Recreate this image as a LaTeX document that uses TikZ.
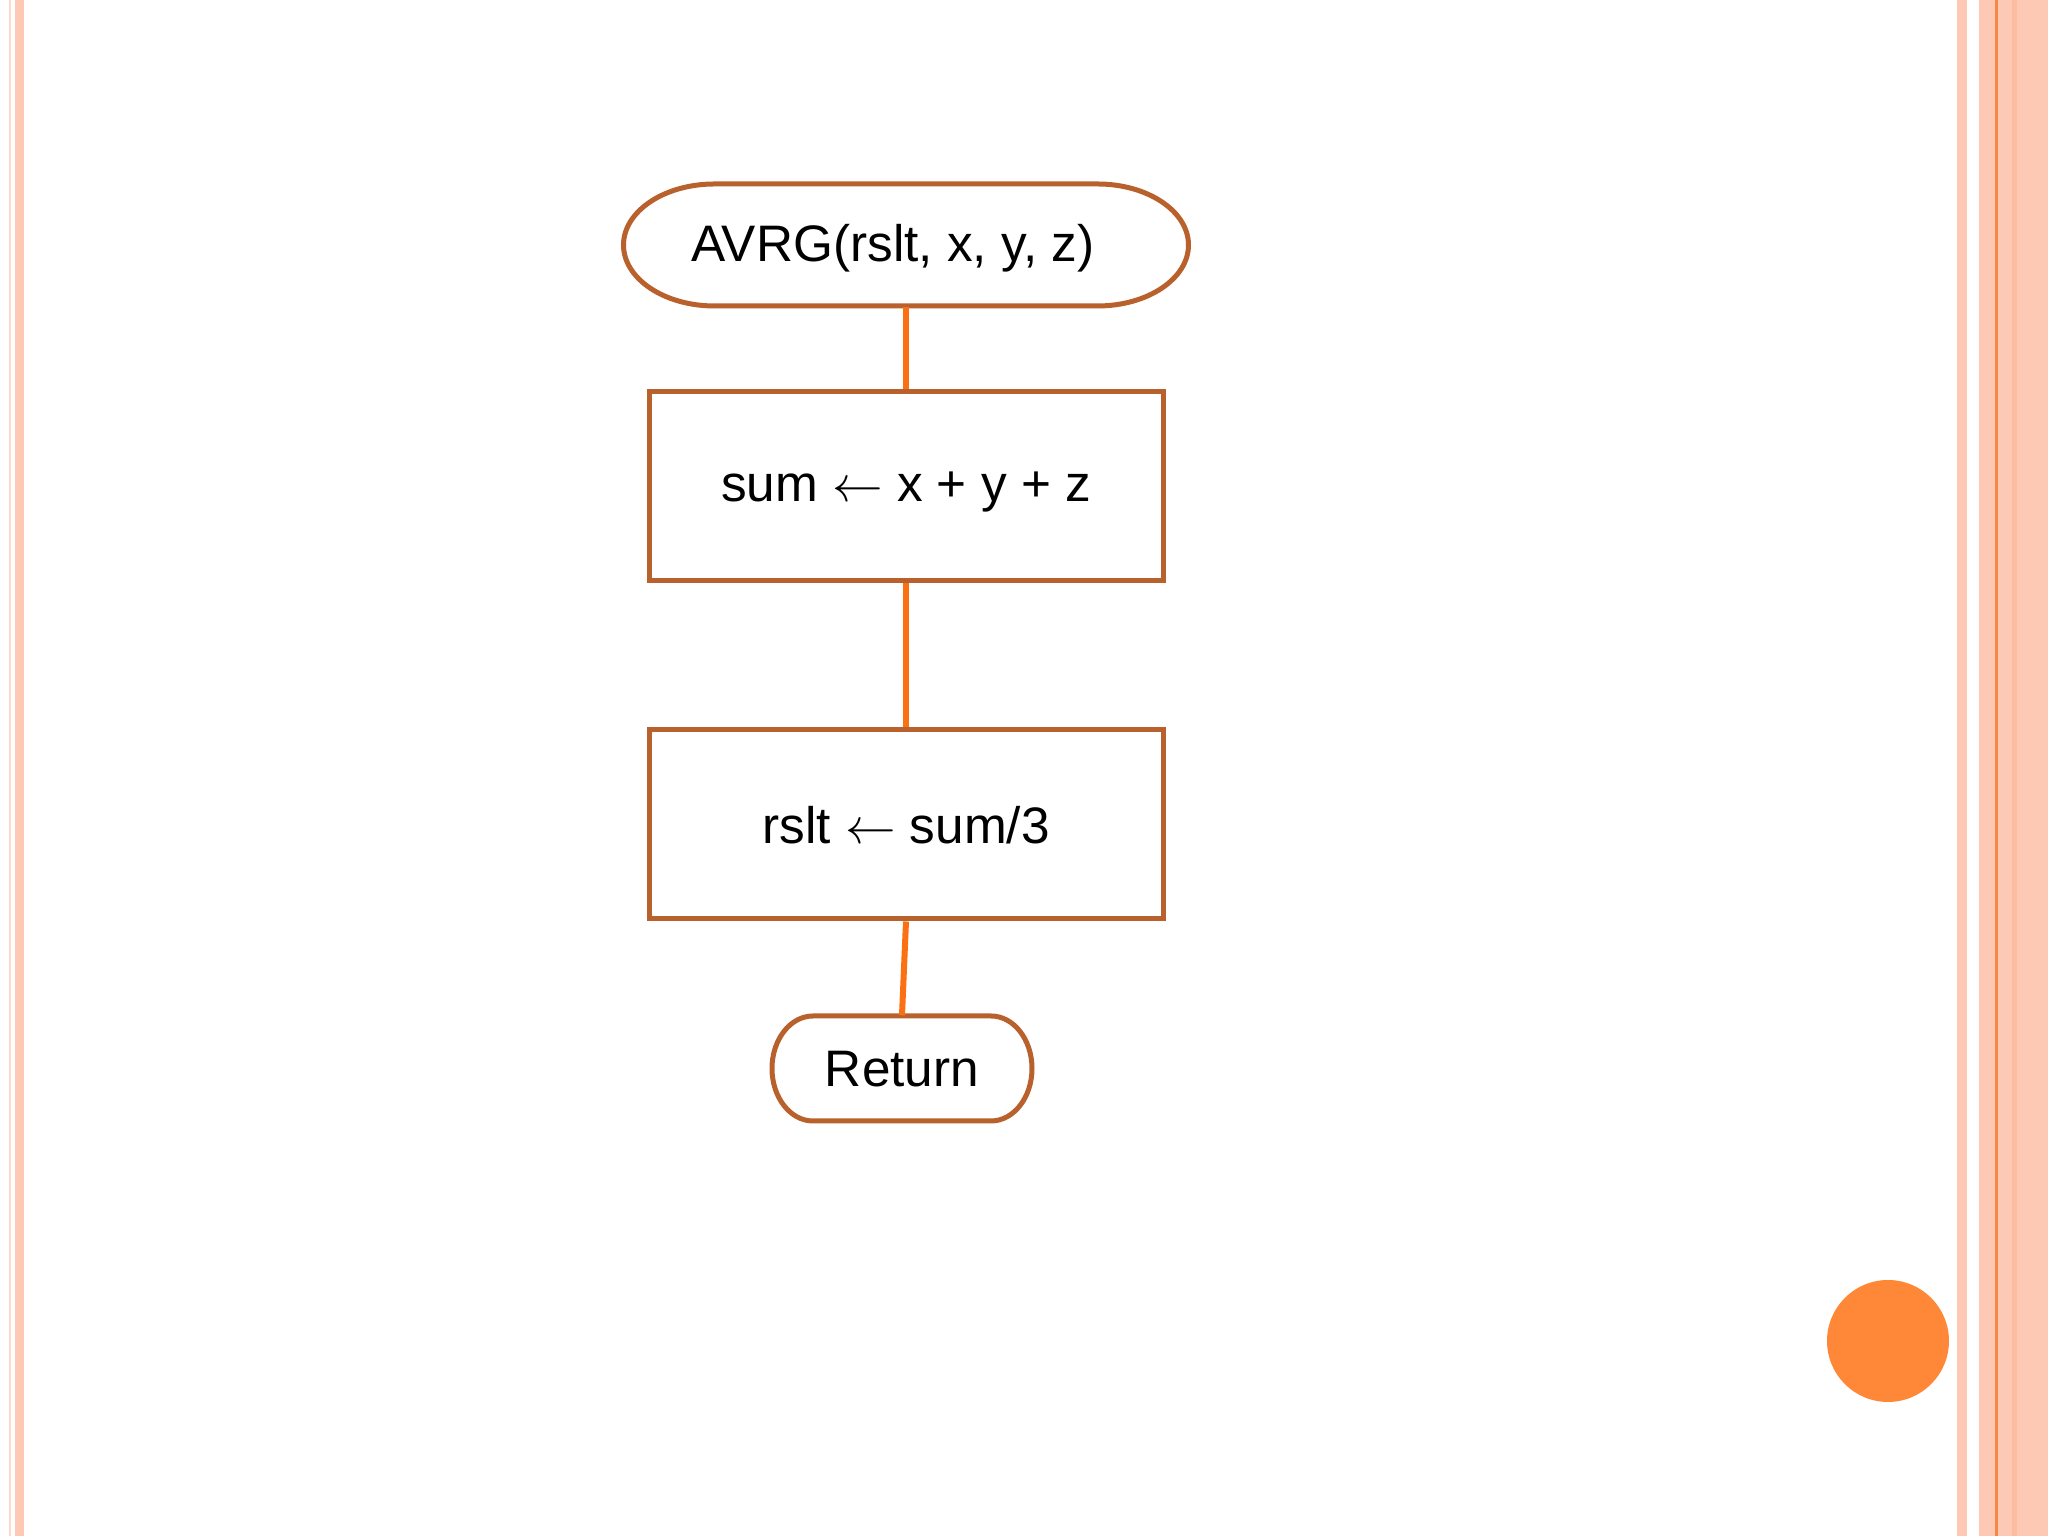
\documentclass[tikz,border=0pt]{standalone}
\usepackage{fontspec}
\setmainfont{Liberation Sans}
\usepackage{tikz}
\usetikzlibrary{calc,shapes}
\definecolor{frameclr}{RGB}{185,97,45}
\definecolor{lineclr}{RGB}{250,112,18}
\definecolor{stripe}{RGB}{253,200,180}
\definecolor{stripedark}{RGB}{251,188,160}
\definecolor{stripeline}{RGB}{248,135,70}
\definecolor{dotclr}{RGB}{255,136,56}
\tikzset{%
	process/.style  = {draw=frameclr, line width=0.05cm, rectangle, minimum width=5.14cm, minimum height=1.89cm, inner sep=0pt, text centered, text depth=0pt},
	terminal/.style = {rectangle, inner sep=0pt, text centered, text depth=0pt},
	frame/.style    = {draw=frameclr, line width=0.05cm},
	link/.style     = {draw=lineclr, line width=0.06cm},
}

\begin{document}
\begin{tikzpicture}[font=\fontsize{14.6}{17}\selectfont]
	\useasboundingbox (0,0) rectangle (20.48,15.36);
	\fill[white] (0,0) rectangle (20.48,15.36);
	
	% side stripes
	\fill[stripe!70] (0.09,0) rectangle (0.11,15.36);
	\fill[stripe] (0.15,0) rectangle (0.24,15.36);
	\fill[stripe] (19.57,0) rectangle (19.67,15.36);
	\fill[stripe] (19.79,0) rectangle (20.48,15.36);
	\fill[stripedark] (20.12,0) rectangle (20.17,15.36);
	\fill[stripeline] (19.95,0) rectangle (19.98,15.36);
	\fill[dotclr] (18.88,1.95) circle (0.61);
	
	\node[terminal, minimum width=5.64cm, minimum height=1.22cm] (avrg) at (8.93,12.93) {AVRG(rslt, x, y, z)};
	\node[process] (sum) at (9.06,10.495) {sum $\leftarrow$ x + y + z};
	\node[process] (rslt) at (9.06,7.115) {rslt $\leftarrow$ sum/3};
	\node[terminal, minimum width=2.60cm, minimum height=1.05cm] (ret) at (9.02,4.675) {Return};
	
	\draw[frame] ([shift={(-1.785,0.59)}]avrg.center) -- ++(3.83,0) arc[start angle=90,end angle=-90,x radius=0.91,y radius=0.61] -- ++(-3.83,0) arc[start angle=270,end angle=90,x radius=0.91,y radius=0.61] -- cycle;
	\draw[frame] ([shift={(-0.89,0.525)}]ret.center) -- ++(1.78,0) arc[start angle=90,end angle=-90,x radius=0.41,y radius=0.525] -- ++(-1.78,0) arc[start angle=270,end angle=90,x radius=0.41,y radius=0.525] -- cycle;
	
	\draw[link] ([yshift=-0.02cm]avrg.south -| sum.north) -- (sum.north);
	\draw[link] (sum.south) -- (rslt.north);
	\draw[link] (rslt.south) -- (ret.north);
\end{tikzpicture}
\end{document}
